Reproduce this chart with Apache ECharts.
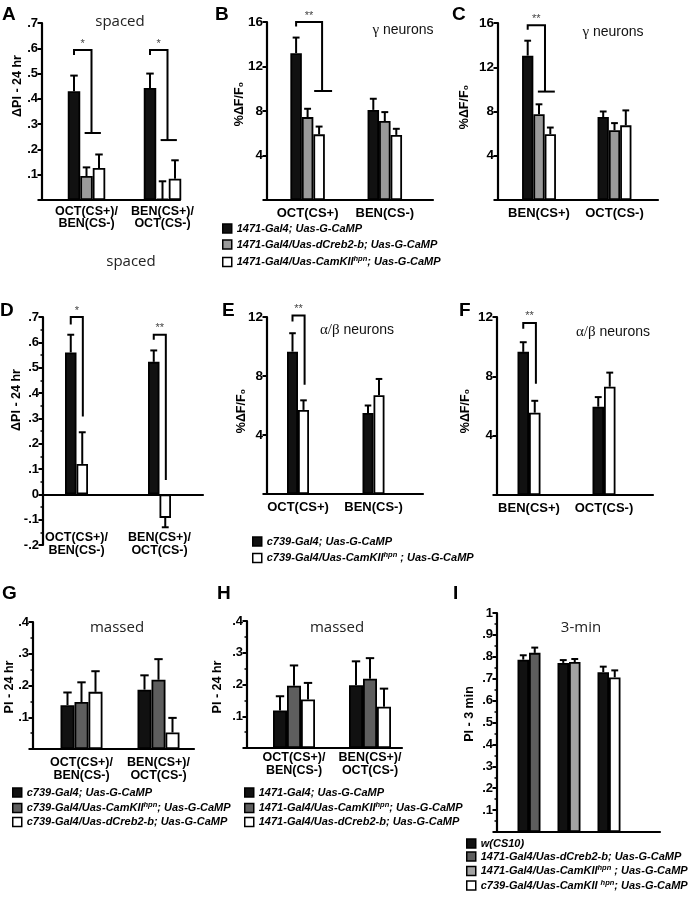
<!DOCTYPE html>
<html><head><meta charset="utf-8">
<script src="https://cdn.jsdelivr.net/npm/echarts@6/dist/echarts.min.js"></script>
<style>
html,body{margin:0;padding:0;background:#fff;width:696px;height:899px;overflow:hidden}
.pn{position:absolute;left:0;top:0;width:696px;height:899px}
</style></head><body>
<script>
// ---------------- DATA ----------------
const CAT_PAIR = ['OCT(CS+)/\nBEN(CS-)', 'BEN(CS+)/\nOCT(CS-)'];
const CAT_B = ['OCT(CS+)', 'BEN(CS-)'];
const CAT_C = ['BEN(CS+)', 'OCT(CS-)'];
const CAT_I = ['w(CS10) vs dCreb2-b', 'w(CS10) vs 1471 CamKII', 'w(CS10) vs c739 CamKII'];

const A_black = [0.43, 0.443],  A_blackErr = [0.492, 0.50];
const A_gray  = [0.095, 0.004], A_grayErr  = [0.129, 0.074];
const A_white = [0.127, 0.084], A_whiteErr = [0.18, 0.157];
const A_brackets = [[0, 0.593, 0.573, 0.265, '*'], [1, 0.593, 0.573, 0.237, '*']];

const B_black = [13.2, 8.1],  B_blackErr = [14.6, 9.1];
const B_gray  = [7.45, 7.1],  B_grayErr  = [8.2, 7.9];
const B_white = [5.9, 5.85],  B_whiteErr = [6.6, 6.4];
const B_brackets = [[0, 16.0, 15.6, 9.8, '**']];

const C_black = [13.05, 7.5], C_blackErr = [14.4, 8.0];
const C_gray  = [7.75, 6.3],  C_grayErr  = [8.65, 6.95];
const C_white = [5.95, 6.75], C_whiteErr = [6.55, 8.1];
const C_brackets = [[0, 15.8, 15.4, 9.8, '**']];

const D_black = [0.56, 0.523], D_blackErr = [0.63, 0.568];
const D_white = [0.12, -0.093], D_whiteErr = [0.245, -0.13];
const D_brackets = [[0, 0.70, 0.67, 0.307, '*'], [1, 0.63, 0.61, 0.057, '**']];

const E_black = [9.65, 5.5], E_blackErr = [10.9, 6.0];
const E_white = [5.7, 6.7],  E_whiteErr = [6.35, 7.8];
const E_brackets = [[0, 12.1, 11.7, 7.4, '**']];

const F_black = [9.65, 5.95], F_blackErr = [10.3, 6.6];
const F_white = [5.55, 7.3],  F_whiteErr = [6.35, 8.25];
const F_brackets = [[0, 11.6, 11.2, 7.5, '**']];

const G_black = [0.138, 0.187], G_blackErr = [0.178, 0.232];
const G_gray  = [0.148, 0.218], G_grayErr  = [0.21, 0.283];
const G_white = [0.18, 0.052],  G_whiteErr = [0.245, 0.098];

const H_black = [0.118, 0.198], H_blackErr = [0.163, 0.273];
const H_gray  = [0.196, 0.218], H_grayErr  = [0.26, 0.283];
const H_white = [0.153, 0.13],  H_whiteErr = [0.205, 0.187];

const I_black = [0.787, 0.772, 0.73], I_blackErr = [0.807, 0.785, 0.755];
const I_dark  = [0.818, null, null],  I_darkErr  = [0.842, null, null];
const I_light = [null, 0.776, null],  I_lightErr = [null, 0.79, null];
const I_white = [null, null, 0.706],  I_whiteErr = [null, null, 0.738];

const N_1471 = '1471-Gal4; Uas-G-CaMP';
const N_1471_creb = '1471-Gal4/Uas-dCreb2-b; Uas-G-CaMP';
const N_1471_camk = '1471-Gal4/Uas-CamKII^hpn; Uas-G-CaMP';
const N_c739 = 'c739-Gal4; Uas-G-CaMP';
const N_c739_camk = 'c739-Gal4/Uas-CamKII^hpn; Uas-G-CaMP';
const N_c739_creb = 'c739-Gal4/Uas-dCreb2-b; Uas-G-CaMP';
const N_wt = 'w(CS10)';
const N_1471_camk_sp = '1471-Gal4/Uas-CamKII^hpn ; Uas-G-CaMP';
const N_c739_camk_sp = 'c739-Gal4/Uas-CamKII^hpn ; Uas-G-CaMP';
const N_c739_camk_sp2 = 'c739-Gal4/Uas-CamKII ^hpn; Uas-G-CaMP';

// ---------------- STYLE ----------------
const FONT = '"Liberation Sans", Arial, Helvetica, sans-serif';
const FONTU = '"Liberation Sans", "DejaVu Sans", Arial, sans-serif';
const SERIF = '"Liberation Serif", "DejaVu Serif", serif';
const HUM = '"Open Sans", "Noto Sans", sans-serif';
const BLACK = '#111111', GRAY = '#9a9a9a', DGRAY = '#5e5e5e', WHITE = '#ffffff', LGRAY = '#a2a2a2';

function decFmt(showZero) {
  return function (v) {
    if (Math.abs(v) < 1e-9) return showZero ? '0' : '';
    if (Math.abs(v - 1) < 1e-9) return '1';
    return v.toFixed(1).replace(/^(-?)0\./, '$1.');
  };
}
const intFmt = v => (v === 0 ? '' : String(v));

const panels = [
  { axisX: 42, xEnd: 180, top: 23, bottom: 200, band: [48.5, 152], min: 0, max: 0.7, interval: 0.1,
    fmt: decFmt(false), tickFont: 13, minor: false, yName: 'ΔPI - 24 hr', nameXY: [18, 86],
    cats: CAT_PAIR, catFont: 12.5, catLH: 12.5, catMargin: 5, n: 3, bw: 12.5,
    series: [{ name: 'a1', data: A_black, err: A_blackErr, color: BLACK },
             { name: 'a2', data: A_gray, err: A_grayErr, color: GRAY },
             { name: 'a3', data: A_white, err: A_whiteErr, color: WHITE }],
    brackets: A_brackets, br: { xL: -1, xR: 0.4, c1: -0.15, c2: 1.15, cap: true },
    texts: [{ t: 'A', x: 2, y: 5, k: 'letter' }, { t: 'spaced', x: 120, y: 22, k: 'hum' }, { t: 'spaced', x: 131, y: 262, k: 'hum' }] },
  { axisX: 267, xEnd: 433, top: 22, bottom: 200, band: [269, 154.4], min: 0, max: 16, interval: 4,
    fmt: intFmt, tickFont: 13.5, minor: false, yName: '%ΔF/F₀', nameXY: [240, 104],
    cats: CAT_B, catFont: 13, catLH: 14, catMargin: 6, n: 3, bw: 11.5,
    series: [{ name: N_1471, data: B_black, err: B_blackErr, color: BLACK },
             { name: N_1471_creb, data: B_gray, err: B_grayErr, color: GRAY },
             { name: N_1471_camk, data: B_white, err: B_whiteErr, color: WHITE }],
    brackets: B_brackets, br: { xL: -1, xR: 1.26, c1: 0.57, c2: 2.13, cap: true },
    legend: { left: 222, top: 223, gap: 5 },
    texts: [{ t: 'B', x: 215, y: 5, k: 'letter' }, { t: '{g|γ} neurons', x: 403, y: 30, k: 'neur' }] },
  { axisX: 498, xEnd: 658, top: 23, bottom: 200, band: [501.25, 151], min: 0, max: 16, interval: 4,
    fmt: intFmt, tickFont: 13.5, minor: false, yName: '%ΔF/F₀', nameXY: [465, 107],
    cats: CAT_C, catFont: 13, catLH: 14, catMargin: 6, n: 3, bw: 11.3,
    series: [{ name: 'c1', data: C_black, err: C_blackErr, color: BLACK },
             { name: 'c2', data: C_gray, err: C_grayErr, color: GRAY },
             { name: 'c3', data: C_white, err: C_whiteErr, color: WHITE }],
    brackets: C_brackets, br: { xL: -1, xR: 0.53, c1: -0.1, c2: 1.4, cap: true },
    texts: [{ t: 'C', x: 452, y: 5, k: 'letter' }, { t: '{g|γ} neurons', x: 613, y: 32, k: 'neur' }] },
  { axisX: 43, xEnd: 203, top: 317, bottom: 545, band: [35, 166], min: -0.2, max: 0.7, interval: 0.1,
    fmt: decFmt(true), tickFont: 13, minor: true, yName: 'ΔPI - 24 hr', nameXY: [17, 400],
    cats: CAT_PAIR, catFont: 12.5, catLH: 13, catMargin: -14, n: 2, bw: 11.5,
    series: [{ name: 'd1', data: D_black, err: D_blackErr, color: BLACK },
             { name: 'd2', data: D_white, err: D_whiteErr, color: WHITE }],
    brackets: D_brackets, br: { xL: -0.5, xR: 0.55, cap: false },
    texts: [{ t: 'D', x: 0, y: 301, k: 'letter' }] },
  { axisX: 267, xEnd: 423, top: 317, bottom: 494, band: [260.25, 151], min: 0, max: 12, interval: 4,
    fmt: intFmt, tickFont: 13.5, minor: false, yName: '%ΔF/F₀', nameXY: [242, 411],
    cats: CAT_B, catFont: 13, catLH: 14, catMargin: 6, n: 2, bw: 11,
    series: [{ name: N_c739, data: E_black, err: E_blackErr, color: BLACK },
             { name: N_c739_camk_sp, data: E_white, err: E_whiteErr, color: WHITE }],
    brackets: E_brackets, br: { xL: -0.5, xR: 0.6, cap: false },
    legend: { left: 252, top: 536, gap: 4 },
    texts: [{ t: 'E', x: 222, y: 301, k: 'letter' }, { t: '{g|α/β} neurons', x: 357, y: 330, k: 'neur' }] },
  { axisX: 497, xEnd: 653, top: 317, bottom: 495, band: [491.5, 150], min: 0, max: 12, interval: 4,
    fmt: intFmt, tickFont: 13.5, minor: false, yName: '%ΔF/F₀', nameXY: [466, 411],
    cats: CAT_C, catFont: 13, catLH: 14, catMargin: 6, n: 2, bw: 11.5,
    series: [{ name: 'f1', data: F_black, err: F_blackErr, color: BLACK },
             { name: 'f2', data: F_white, err: F_whiteErr, color: WHITE }],
    brackets: F_brackets, br: { xL: -0.5, xR: 0.6, cap: false },
    texts: [{ t: 'F', x: 459, y: 301, k: 'letter' }, { t: '{g|α/β} neurons', x: 613, y: 332, k: 'neur' }] },
  { axisX: 33, xEnd: 194, top: 622, bottom: 749, band: [43, 154], min: 0, max: 0.4, interval: 0.1,
    fmt: decFmt(false), tickFont: 13, minor: true, yName: 'PI - 24 hr', nameXY: [10, 687],
    cats: CAT_PAIR, catFont: 12.5, catLH: 13, catMargin: 7, n: 3, bw: 14,
    series: [{ name: N_c739, data: G_black, err: G_blackErr, color: BLACK },
             { name: N_c739_camk, data: G_gray, err: G_grayErr, color: DGRAY },
             { name: N_c739_creb, data: G_white, err: G_whiteErr, color: WHITE }],
    legend: { left: 12, top: 787, gap: 3 },
    texts: [{ t: 'G', x: 2, y: 584, k: 'letter' }, { t: 'massed', x: 117, y: 628, k: 'hum' }] },
  { axisX: 247, xEnd: 402, top: 621, bottom: 748, band: [256, 152], min: 0, max: 0.4, interval: 0.1,
    fmt: decFmt(false), tickFont: 13, minor: true, yName: 'PI - 24 hr', nameXY: [218, 687],
    cats: CAT_PAIR, catFont: 12.5, catLH: 13, catMargin: 3, n: 3, bw: 14,
    series: [{ name: N_1471, data: H_black, err: H_blackErr, color: BLACK },
             { name: N_1471_camk, data: H_gray, err: H_grayErr, color: DGRAY },
             { name: N_1471_creb, data: H_white, err: H_whiteErr, color: WHITE }],
    legend: { left: 244, top: 787, gap: 3 },
    texts: [{ t: 'H', x: 217, y: 584, k: 'letter' }, { t: 'massed', x: 337, y: 628, k: 'hum' }] },
  { axisX: 497, xEnd: 660, top: 613, bottom: 832, band: [509, 120], min: 0, max: 1, interval: 0.1,
    fmt: decFmt(false), tickFont: 13, minor: true, yName: 'PI - 3 min', nameXY: [470, 714],
    cats: CAT_I, showCats: false, catFont: 12, catLH: 13, catMargin: 6, n: 2, bw: 11.5,
    series: [{ name: N_wt, data: I_black, err: I_blackErr, color: BLACK },
             { name: N_1471_creb, data: I_dark, err: I_darkErr, color: DGRAY, stack: 's' },
             { name: N_1471_camk_sp, data: I_light, err: I_lightErr, color: LGRAY, stack: 's' },
             { name: N_c739_camk_sp2, data: I_white, err: I_whiteErr, color: WHITE, stack: 's' }],
    slotOf: [0, 1, 1, 1],
    legend: { left: 466, top: 838, gap: 2 },
    texts: [{ t: 'I', x: 453, y: 584, k: 'letter' }, { t: '3-min', x: 581, y: 628, k: 'hum' }] }
];

function textEl(o) {
  if (o.k === 'letter') {
    return { type: 'text', x: o.x, y: o.y, style: { text: o.t, fill: '#000', font: 'bold 19px ' + FONT, align: 'left', verticalAlign: 'top' } };
  }
  if (o.k === 'hum') {
    return { type: 'text', x: o.x, y: o.y, style: { text: o.t, fill: '#222', font: '15px ' + HUM, align: 'center', verticalAlign: 'middle' } };
  }
  if (o.k === 'yname') {
    return { type: 'text', x: o.x, y: o.y, rotation: Math.PI / 2,
      style: { text: o.t, fill: '#000', font: 'bold 12.5px ' + FONTU, align: 'center', verticalAlign: 'middle' } };
  }
  return { type: 'text', x: o.x, y: o.y, style: { text: o.t, fill: '#111', fontFamily: FONT, fontSize: 14, align: 'center', verticalAlign: 'middle',
    rich: { g: { fontFamily: SERIF, fontSize: 15, fill: '#111' } } } };
}

function build(p) {
  const h = p.bottom - p.top;
  const yBase = { min: p.min, max: p.max, interval: p.interval };
  const series = [];
  p.series.forEach((s) => {
    series.push({
      type: 'bar', name: s.name, xAxisIndex: 0, yAxisIndex: 0, data: s.data,
      barWidth: p.bw, barGap: '0%', stack: s.stack,
      itemStyle: { color: s.color, borderColor: '#000', borderWidth: 1.8 },
      emphasis: { disabled: true }, z: 2
    });
  });
  const errData = [];
  p.series.forEach((s, i) => {
    const slot = p.slotOf ? p.slotOf[i] : i;
    s.data.forEach((v, c) => { if (v != null) errData.push([c, slot, v, s.err[c]]); });
  });
  const n = p.n, bw = p.bw, cw = bw * 0.6;
  series.push({
    type: 'custom', xAxisIndex: 0, yAxisIndex: 0, silent: true, z: 3, encode: { x: 0, y: 3 },
    data: errData,
    renderItem: function (params, api) {
      const c = api.value(0), k = api.value(1), v = api.value(2), e = api.value(3);
      const p0 = api.coord([c, v]), p1 = api.coord([c, e]);
      const x = p0[0] + (k - (n - 1) / 2) * bw;
      return { type: 'group', children: [
        { type: 'line', shape: { x1: x, y1: p0[1], x2: x, y2: p1[1] }, style: { stroke: '#000', lineWidth: 2 } },
        { type: 'line', shape: { x1: x - cw / 2, y1: p1[1], x2: x + cw / 2, y2: p1[1] }, style: { stroke: '#000', lineWidth: 2 } }
      ] };
    }
  });
  if (p.brackets) {
    const br = p.br, list = p.brackets;
    series.push({
      type: 'custom', xAxisIndex: 0, yAxisIndex: 0, silent: true, z: 4, encode: { x: 0, y: 1 },
      data: list.map(b => [b[0], b[1], b[2], b[3]]),
      renderItem: function (params, api) {
        const c = api.value(0), T = api.value(1), Ld = api.value(2), Lo = api.value(3);
        const cx = api.coord([c, T])[0];
        const yT = api.coord([c, T])[1], yD = api.coord([c, Ld])[1], yL = api.coord([c, Lo])[1];
        const xl = cx + br.xL * bw, xr = cx + br.xR * bw;
        const st = { stroke: '#000', lineWidth: 2 };
        const ch = [
          { type: 'polyline', shape: { points: [[xl, yD], [xl, yT], [xr, yT], [xr, yL]] }, style: Object.assign({ fill: null }, st) },
          { type: 'text', x: (xl + xr) / 2, y: yT - 1, style: { text: list[params.dataIndex][4], fill: '#444', font: '11px ' + FONT, align: 'center', verticalAlign: 'bottom' } }
        ];
        if (br.cap) ch.push({ type: 'line', shape: { x1: cx + br.c1 * bw, y1: yL, x2: cx + br.c2 * bw, y2: yL }, style: st });
        return { type: 'group', children: ch };
      }
    });
  }
  const texts = (p.texts || []).slice();
  texts.push({ t: p.yName, x: p.nameXY[0], y: p.nameXY[1], k: 'yname' });
  const opt = {
    animation: false,
    grid: [
      { left: p.band[0], width: p.band[1], top: p.top, height: h, containLabel: false },
      { left: p.axisX, width: p.xEnd - p.axisX, top: p.top, height: h, containLabel: false }
    ],
    xAxis: [
      { type: 'category', gridIndex: 0, data: p.cats, axisLine: { show: false, onZero: false }, axisTick: { show: false },
        splitLine: { show: false },
        axisLabel: { show: p.showCats !== false, interval: 0, margin: p.catMargin, color: '#000', fontFamily: FONT,
          fontWeight: 'bold', fontSize: p.catFont, lineHeight: p.catLH } },
      { type: 'value', gridIndex: 1, min: 0, max: 1, axisLine: { show: true, onZero: true, lineStyle: { color: '#000', width: 2.2 } },
        axisTick: { show: false }, axisLabel: { show: false }, splitLine: { show: false } }
    ],
    yAxis: [
      Object.assign({ type: 'value', gridIndex: 0, show: false, splitLine: { show: false } }, yBase),
      Object.assign({ type: 'value', gridIndex: 1,
        axisLine: { show: true, lineStyle: { color: '#000', width: 2.2 } },
        axisTick: { show: true, length: 4.5, lineStyle: { color: '#000', width: 2 } },
        minorTick: { show: !!p.minor, splitNumber: 2, length: 2.5, lineStyle: { color: '#000', width: 1.5 } },
        splitLine: { show: false }, minorSplitLine: { show: false },
        axisLabel: { formatter: p.fmt, color: '#000', fontFamily: FONT, fontWeight: 'bold', fontSize: p.tickFont, margin: 4 } }, yBase)
    ],
    series: series,
    graphic: texts.map(textEl)
  };
  if (p.legend) {
    opt.legend = {
      orient: 'vertical', left: p.legend.left, top: p.legend.top, itemWidth: 9, itemHeight: 9, itemGap: p.legend.gap,
      icon: 'rect', selectedMode: false, padding: 0,
      itemStyle: { borderColor: '#000', borderWidth: 1.5 },
      data: p.series.map(s => s.name),
      formatter: nm => nm.replace('^hpn', '{s|hpn}'),
      textStyle: { color: '#000', fontFamily: FONT, fontStyle: 'italic', fontWeight: 'bold', fontSize: 11, padding: [0, 0, 0, 0],
        rich: { s: { fontFamily: FONT, fontStyle: 'italic', fontWeight: 'bold', fontSize: 7.5, padding: [0, 0, 6, 0], color: '#000' } } }
    };
  }
  return opt;
}

panels.forEach((p, i) => {
  const d = document.createElement('div');
  d.className = 'pn';
  d.style.zIndex = String(10 + i);
  document.body.appendChild(d);
  const ch = echarts.init(d, null, { renderer: 'canvas', width: 696, height: 899 });
  ch.setOption(build(p));
});
</script>
</body></html>
